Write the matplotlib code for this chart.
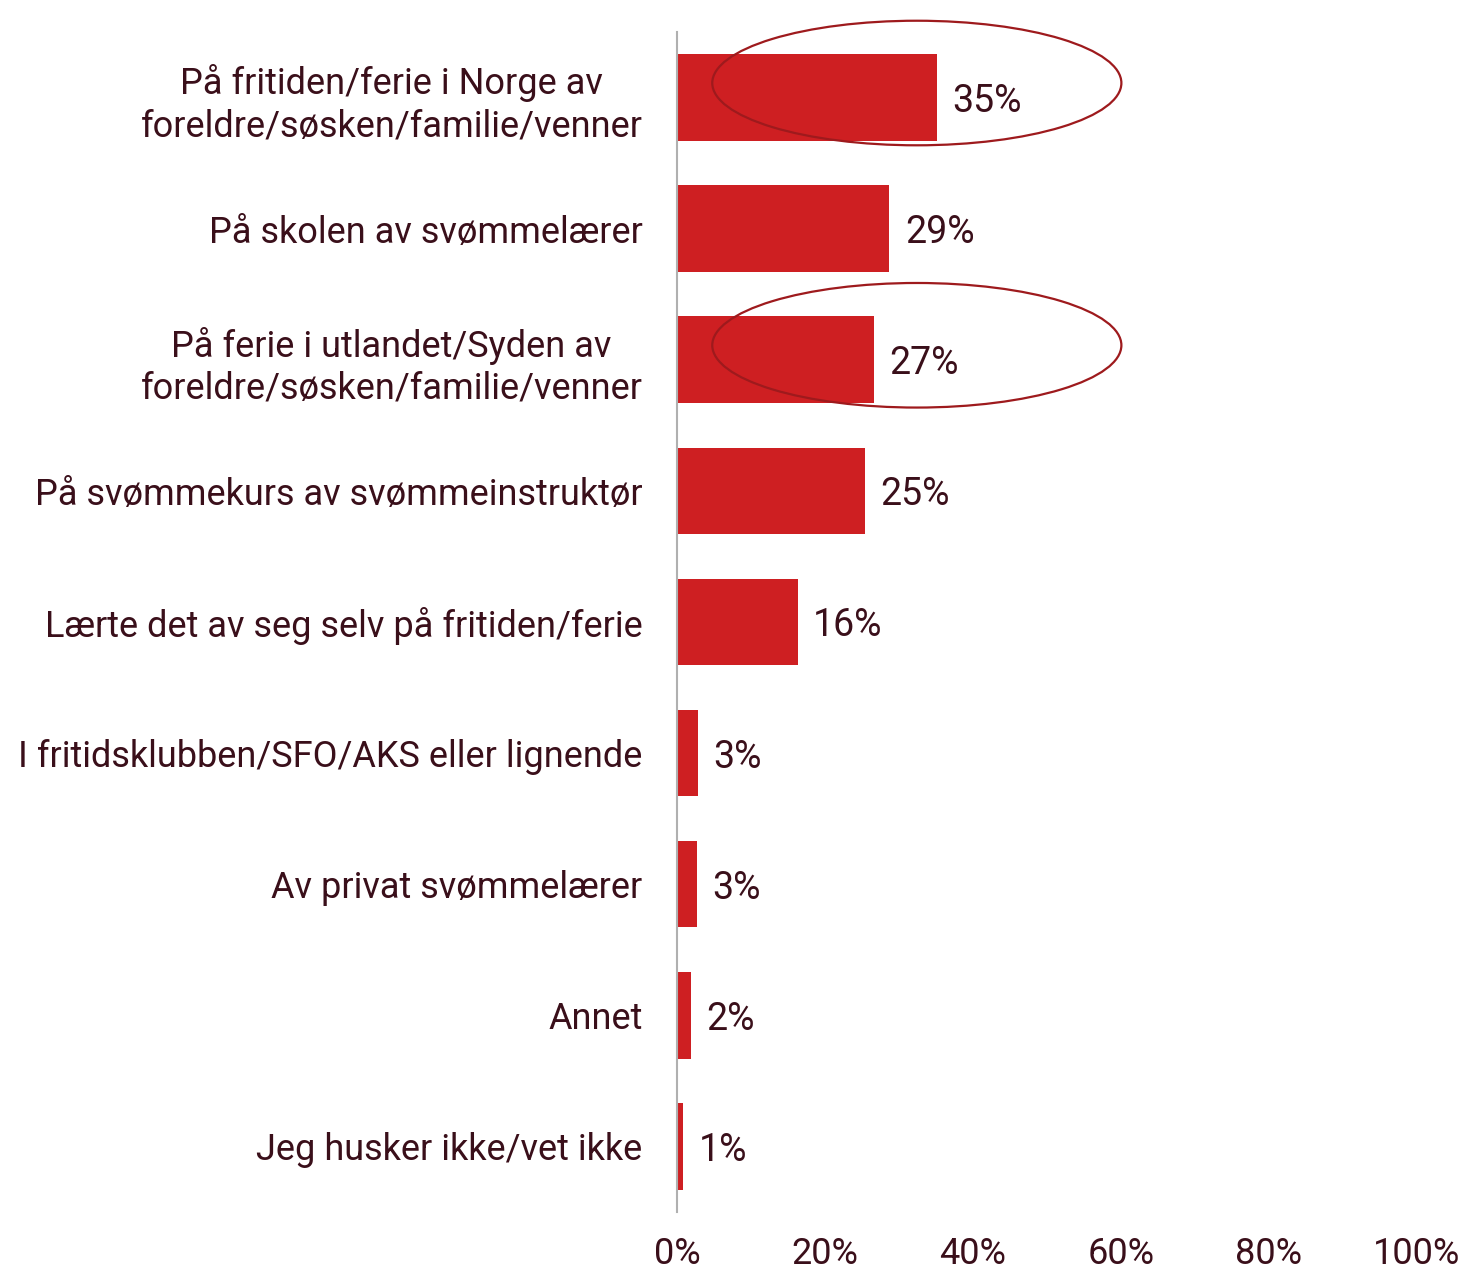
import matplotlib
matplotlib.use("Agg")
import matplotlib.pyplot as plt
from matplotlib.patches import Ellipse

categories = [
    "På fritiden/ferie i Norge av\nforeldre/søsken/familie/venner",
    "På skolen av svømmelærer",
    "På ferie i utlandet/Syden av\nforeldre/søsken/familie/venner",
    "På svømmekurs av svømmeinstruktør",
    "Lærte det av seg selv på fritiden/ferie",
    "I fritidsklubben/SFO/AKS eller lignende",
    "Av privat svømmelærer",
    "Annet",
    "Jeg husker ikke/vet ikke",
]
values = [35.1, 28.7, 26.6, 25.4, 16.3, 2.8, 2.7, 1.9, 0.8]
labels = ["35%", "29%", "27%", "25%", "16%", "3%", "3%", "2%", "1%"]
xticks = [0, 20, 40, 60, 80, 100]
highlighted = [0, 2]

bar_color = "#CE1F22"
text_color = "#3A0F1A"
ring_color = "#9E1A1D"

plt.rcParams['font.family'] = ['Roboto', 'DejaVu Sans']

fig = plt.figure(figsize=(14.72, 12.75), dpi=100)
ax = fig.add_axes([0.46, 0.0494, 0.5026, 0.9256])

y = list(range(len(categories)))
ax.barh(y, values, height=0.66, color=bar_color, zorder=2)

for yi, v, lab in zip(y, values, labels):
    ax.text(v + 2.1, yi, lab, va="center_baseline", ha="left", fontsize=27,
            color=text_color)

# rings round two of the bars
for i in highlighted:
    ax.add_patch(Ellipse((32.4, i - 0.11), 55.3, 0.95, fill=False,
                         edgecolor=ring_color, linewidth=1.6, zorder=3,
                         clip_on=False))

ax.set_xlim(0, 100)
ax.set_ylim(len(categories) - 0.5, -0.5)
ax.set_yticks(y)
ax.set_yticklabels(categories, fontsize=26, color=text_color,
                   multialignment="center", linespacing=1.22)
ax.set_xticks(xticks)
ax.set_xticklabels([f"{t}%" for t in xticks], fontsize=26, color=text_color)
ax.tick_params(axis="both", length=0)
ax.tick_params(axis="y", pad=25)
ax.tick_params(axis="x", pad=17)

for s in ["top", "right", "bottom"]:
    ax.spines[s].set_visible(False)
ax.spines["left"].set_color("#b0b0b0")
ax.spines["left"].set_linewidth(1.5)

fig.savefig("out.png", dpi=100)
